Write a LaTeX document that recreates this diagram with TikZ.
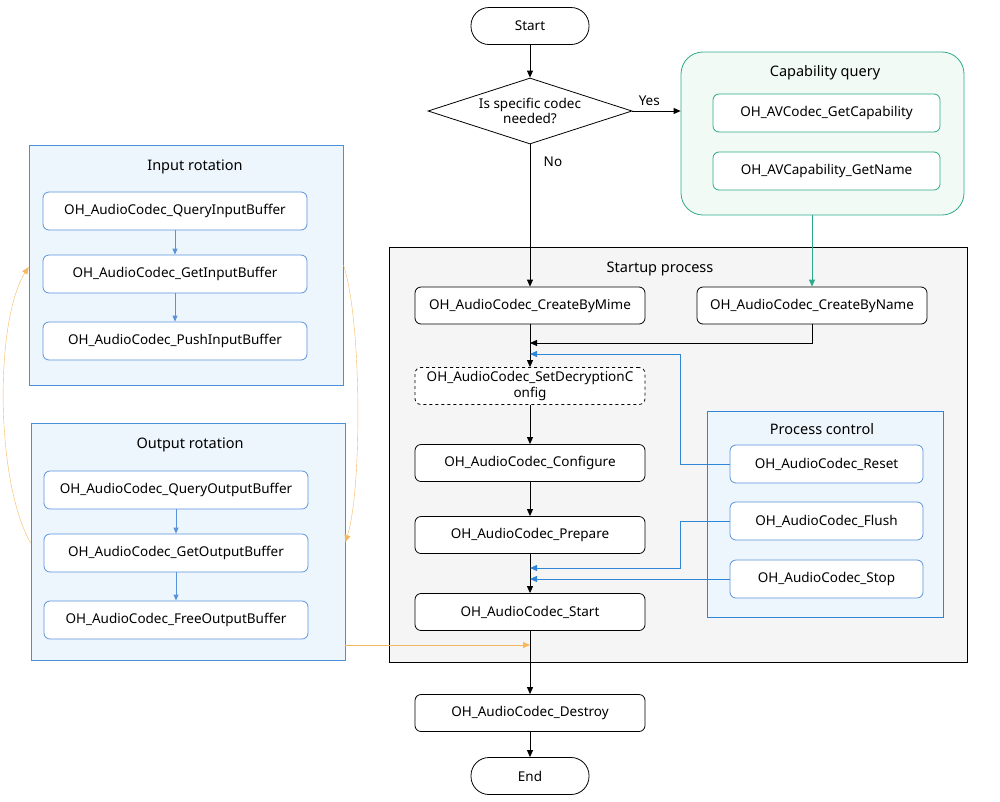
\documentclass[tikz,border=0pt]{standalone}
\usepackage{fontspec}
\setmainfont{Noto Sans}
\usetikzlibrary{shapes.geometric,arrows.meta}
\definecolor{bluebd}{HTML}{4A90D9}
\definecolor{bluefill}{HTML}{EEF6FD}
\definecolor{nodebd}{HTML}{5B93DB}
\definecolor{greenbd}{HTML}{2EAA8A}
\definecolor{greenfill}{HTML}{F1FAF5}
\definecolor{orng}{HTML}{F5B860}
\definecolor{grayfill}{HTML}{F5F5F5}
\definecolor{ctrl}{HTML}{2F86D6}
\begin{document}
\begin{tikzpicture}[x=1pt,y=-1pt,font=\fontsize{13.5}{15.5}\selectfont,
  blk/.style={draw=black,thick,rounded corners=6pt,fill=white,minimum width=230pt,minimum height=37pt,inner sep=1pt,align=center},
  term/.style={draw=black,thick,rounded corners=18pt,fill=white,minimum width=118pt,minimum height=37pt},
  bnode/.style={draw=nodebd,thick,rounded corners=6pt,fill=white,minimum height=38pt},
  gnode/.style={draw=greenbd,thick,rounded corners=6pt,fill=white,minimum width=227pt,minimum height=38pt},
  arr/.style={-{Triangle[length=7pt,width=6pt]},thick},
  barr/.style={-{Triangle[length=6pt,width=5pt]},draw=nodebd,thick},
  carr/.style={-{Triangle[length=7pt,width=6pt]},draw=ctrl,thick},
  oarr/.style={-{Triangle[length=7pt,width=6pt]},draw=orng}]
\useasboundingbox (0,0) rectangle (1000,801);
% startup process box
\node[draw=black,thick,fill=grayfill,minimum width=578pt,minimum height=415pt,inner sep=0pt] (sp) at (678,454.5) {};
\node (spt) at (660,269) {\fontsize{14.5}{16}\selectfont Startup process};
% capability box
\node[draw=greenbd,thick,fill=greenfill,rounded corners=22pt,minimum width=283pt,minimum height=163pt] (cq) at (822.5,133.5) {};
\node (cqt) at (825,73) {\fontsize{14.5}{16}\selectfont Capability query};
\node[gnode] (gc) at (826.5,113) {OH\_AVCodec\_GetCapability};
\node[gnode] (gn) at (826.5,171) {OH\_AVCapability\_GetName};
% process control
\node[draw=ctrl,thick,fill=bluefill,minimum width=236pt,minimum height=206pt,inner sep=0pt] (pc) at (825,514) {};
\node (pct) at (822,429) {\fontsize{14.5}{16}\selectfont Process control};
\node[bnode,minimum width=193pt] (reset) at (826.5,464) {OH\_AudioCodec\_Reset};
\node[bnode,minimum width=193pt] (flush) at (826.5,521) {OH\_AudioCodec\_Flush};
\node[bnode,minimum width=193pt] (stop) at (826.5,579) {OH\_AudioCodec\_Stop};
% left boxes
\node[draw=bluebd,thick,fill=bluefill,minimum width=314pt,minimum height=240pt,inner sep=0pt] (inb) at (186,265) {};
\node (inbt) at (195,167) {\fontsize{14.5}{16}\selectfont Input rotation};
\node[bnode,minimum width=264pt] (qi) at (175,211) {OH\_AudioCodec\_QueryInputBuffer};
\node[bnode,minimum width=264pt] (gi) at (175,274) {OH\_AudioCodec\_GetInputBuffer};
\node[bnode,minimum width=264pt] (pi) at (175,341) {OH\_AudioCodec\_PushInputBuffer};
\node[draw=bluebd,thick,fill=bluefill,minimum width=314pt,minimum height=237pt,inner sep=0pt] (outb) at (188,541.5) {};
\node (outbt) at (190,445) {\fontsize{14.5}{16}\selectfont Output rotation};
\node[bnode,minimum width=264pt] (qo) at (176,490) {OH\_AudioCodec\_QueryOutputBuffer};
\node[bnode,minimum width=264pt] (go) at (176,553) {OH\_AudioCodec\_GetOutputBuffer};
\node[bnode,minimum width=264pt] (fo) at (176,620) {OH\_AudioCodec\_FreeOutputBuffer};
\draw[barr] (qi) -- (gi); \draw[barr] (gi) -- (pi);
\draw[barr] (qo) -- (go); \draw[barr] (go) -- (fo);
% main flow
\node[term] (start) at (530,26) {Start};
\node[diamond,draw=black,thick,fill=white,minimum width=204pt,minimum height=66pt,inner sep=0pt,aspect=3.1,align=center] (dec) at (530,111) {Is specific codec\\needed?};
\node[blk] (mime) at (530,305.5) {OH\_AudioCodec\_CreateByMime};
\node[blk] (name) at (812,305.5) {OH\_AudioCodec\_CreateByName};
\node[blk,dashed] (dec2) at (530,386) {OH\_AudioCodec\_SetDecryptionC\\onfig};
\node[blk] (conf) at (530,463) {OH\_AudioCodec\_Configure};
\node[blk] (prep) at (530,535) {OH\_AudioCodec\_Prepare};
\node[blk] (st) at (530,612) {OH\_AudioCodec\_Start};
\node[blk] (des) at (530,713) {OH\_AudioCodec\_Destroy};
\node[term] (end) at (530,776) {End};
\draw[arr] (start) -- (dec);
\draw[arr] (dec.east) -- node[above,pos=0.35,yshift=2pt]{Yes} (cq.west |- dec.east);
\draw[arr] (dec) -- node[right,pos=0.12,xshift=10pt]{No} (mime);
\draw[-{Triangle[length=7pt,width=6pt]},draw=greenbd,thick] (cq.south -| name) -- (name);
\draw[arr] (mime) -- (dec2);
\coordinate (j1) at (530,343);
\draw[arr] (name.south) |- (j1);
\draw[arr] (dec2) -- (conf);
\draw[arr] (conf) -- (prep);
\draw[arr] (prep) -- (st);
\draw[arr] (st) -- (des);
\draw[arr] (des) -- (end);
\coordinate (j2) at (530,354);
\coordinate (j3) at (530,568);
\coordinate (j4) at (530,579);
\draw[carr] (reset.west) -- (680,464) |- (j2);
\draw[carr] (flush.west) -- (680,521) |- (j3);
\draw[carr] (stop.west) -- (j4);
% orange
\draw[oarr] (outb.west |- 0,543) .. controls (-5,480) and (-5,320) .. (inb.west |- 0,267);
\draw[oarr] (inb.east |- 0,265) .. controls (362,320) and (362,490) .. (outb.east |- 0,542);
\coordinate (j5) at (530,645);
\draw[oarr] (outb.east |- j5) -- (j5);
\end{tikzpicture}
\end{document}
